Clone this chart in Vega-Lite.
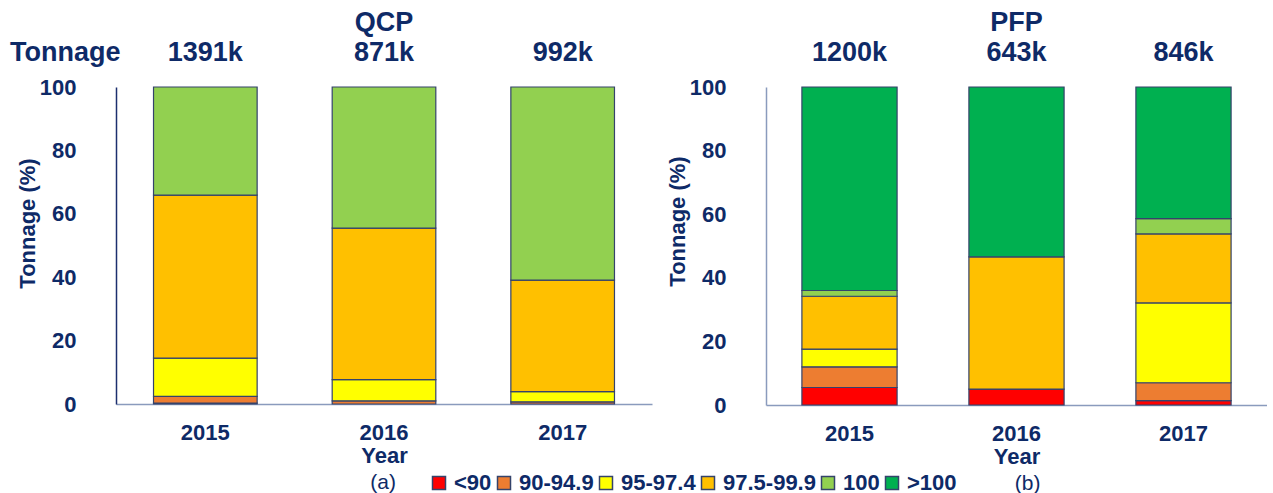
{
  "$schema": "https://vega.github.io/schema/vega-lite/v6.json",
  "padding": {"top": 8, "left": 10, "right": 0, "bottom": 0},
  "background": "white",
  "config": {
    "view": {"stroke": null},
    "font": "Liberation Sans",
    "axis": {
      "labelFont": "Liberation Sans",
      "labelFontWeight": "bold",
      "labelFontSize": 22,
      "labelColor": "#0e2a67",
      "titleFont": "Liberation Sans",
      "titleFontWeight": "bold",
      "titleFontSize": 22,
      "titleColor": "#0e2a67",
      "ticks": false,
      "grid": false
    },
    "title": {"font": "Liberation Sans", "fontWeight": "bold", "fontSize": 27, "color": "#0e2a67", "anchor": "middle"},
    "legend": {
      "labelFont": "Liberation Sans",
      "labelFontWeight": "bold",
      "labelFontSize": 22,
      "labelColor": "#0e2a67"
    }
  },
  "datasets": {
    "qcp": [
      {"year": "2015", "cat": "<90", "pct": 0.3},
      {"year": "2015", "cat": "90-94.9", "pct": 2.1},
      {"year": "2015", "cat": "95-97.4", "pct": 12.1},
      {"year": "2015", "cat": "97.5-99.9", "pct": 51.4},
      {"year": "2015", "cat": "100", "pct": 34.1},
      {"year": "2016", "cat": "90-94.9", "pct": 1.0},
      {"year": "2016", "cat": "95-97.4", "pct": 6.7},
      {"year": "2016", "cat": "97.5-99.9", "pct": 47.8},
      {"year": "2016", "cat": "100", "pct": 44.5},
      {"year": "2017", "cat": "90-94.9", "pct": 0.7},
      {"year": "2017", "cat": "95-97.4", "pct": 3.2},
      {"year": "2017", "cat": "97.5-99.9", "pct": 35.2},
      {"year": "2017", "cat": "100", "pct": 60.9}
    ],
    "pfp": [
      {"year": "2015", "cat": "<90", "pct": 5.5},
      {"year": "2015", "cat": "90-94.9", "pct": 6.5},
      {"year": "2015", "cat": "95-97.4", "pct": 5.6},
      {"year": "2015", "cat": "97.5-99.9", "pct": 16.6},
      {"year": "2015", "cat": "100", "pct": 1.8},
      {"year": "2015", "cat": ">100", "pct": 64.0},
      {"year": "2016", "cat": "<90", "pct": 5.0},
      {"year": "2016", "cat": "97.5-99.9", "pct": 41.6},
      {"year": "2016", "cat": ">100", "pct": 53.4},
      {"year": "2017", "cat": "<90", "pct": 1.4},
      {"year": "2017", "cat": "90-94.9", "pct": 5.6},
      {"year": "2017", "cat": "95-97.4", "pct": 25.1},
      {"year": "2017", "cat": "97.5-99.9", "pct": 21.7},
      {"year": "2017", "cat": "100", "pct": 4.8},
      {"year": "2017", "cat": ">100", "pct": 41.4}
    ],
    "qcpT": [
      {"year": "2015", "label": "1391k"},
      {"year": "2016", "label": "871k"},
      {"year": "2017", "label": "992k"}
    ],
    "pfpT": [
      {"year": "2015", "label": "1200k"},
      {"year": "2016", "label": "643k"},
      {"year": "2017", "label": "846k"}
    ],
    "tonLbl": [
      {"year": "2015", "label": "Tonnage"}
    ]
  },
  "resolve": {"scale": {"color": "shared"}, "legend": {"color": "shared"}},
  "spacing": 14,
  "hconcat": [
    {
      "title": {"text": "(a)", "orient": "bottom", "fontWeight": "normal", "fontSize": 21, "offset": 6, "dx": 52},
      "vconcat": [
        {
          "width": 536,
          "height": 317,
          "title": {"text": "QCP", "fontSize": 27, "offset": 2},
          "layer": [
            {
              "data": {"name": "qcp"},
              "transform": [{"calculate": "indexof(['<90','90-94.9','95-97.4','97.5-99.9','100','>100'], datum.cat)", "as": "rank"}],
              "mark": {"type": "bar", "stroke": "#34436b", "strokeWidth": 1.2},
              "encoding": {
                "x": {
                  "field": "year", "type": "ordinal",
                  "scale": {"paddingInner": 0.42, "paddingOuter": 0.21},
                  "axis": {"title": "Year", "labelAngle": 0, "labelPadding": 18, "titlePadding": 2, "domainColor": "#8a9bbd", "domainWidth": 1.5}
                },
                "y": {
                  "field": "pct", "type": "quantitative", "stack": "zero",
                  "scale": {"domain": [0, 100], "nice": false},
                  "axis": {"title": "Tonnage (%)", "values": [0, 20, 40, 60, 80, 100], "labelPadding": 40, "titlePadding": 0, "titleY": 136, "domainColor": "#1c2f6e", "domainWidth": 1.5}
                },
                "order": {"field": "rank", "type": "quantitative", "sort": "ascending"},
                "color": {
                  "field": "cat", "type": "nominal",
                  "sort": ["<90", "90-94.9", "95-97.4", "97.5-99.9", "100", ">100"],
                  "scale": {
                    "domain": ["<90", "90-94.9", "95-97.4", "97.5-99.9", "100", ">100"],
                    "range": ["#ff0000", "#ed7d31", "#ffff00", "#ffc000", "#92d050", "#00b050"]
                  },
                  "legend": {
                    "title": null, "orient": "none", "direction": "horizontal",
                    "legendX": 312, "legendY": 385,
                    "symbolType": "square", "symbolSize": 169,
                    "symbolStrokeColor": "#7f8aa6", "symbolStrokeWidth": 1.5,
                    "columnPadding": 1, "labelOffset": 4
                  }
                }
              }
            },
            {
              "data": {"name": "qcpT"},
              "mark": {"type": "text", "fontSize": 27, "fontWeight": "bold", "color": "#0e2a67", "baseline": "middle"},
              "encoding": {
                "x": {"field": "year", "type": "ordinal"},
                "y": {"datum": 110.7},
                "text": {"field": "label"}
              }
            },
            {
              "data": {"name": "tonLbl"},
              "mark": {"type": "text", "fontSize": 27, "fontWeight": "bold", "color": "#0e2a67", "baseline": "middle", "dx": -140},
              "encoding": {
                "x": {"field": "year", "type": "ordinal"},
                "y": {"datum": 110.7},
                "text": {"field": "label"}
              }
            }
          ]
        }
      ]
    },
    {
      "title": {"text": "(b)", "orient": "bottom", "fontWeight": "normal", "fontSize": 21, "offset": 6, "dx": 61},
      "vconcat": [
        {
          "width": 501,
          "height": 318,
          "title": {"text": "PFP", "fontSize": 27, "offset": 2},
          "layer": [
            {
              "data": {"name": "pfp"},
              "transform": [{"calculate": "indexof(['<90','90-94.9','95-97.4','97.5-99.9','100','>100'], datum.cat)", "as": "rank"}],
              "mark": {"type": "bar", "stroke": "#34436b", "strokeWidth": 1.2},
              "encoding": {
                "x": {
                  "field": "year", "type": "ordinal",
                  "scale": {"paddingInner": 0.43, "paddingOuter": 0.215},
                  "axis": {"title": "Year", "labelAngle": 0, "labelPadding": 18, "titlePadding": 2, "domainColor": "#8a9bbd", "domainWidth": 1.5}
                },
                "y": {
                  "field": "pct", "type": "quantitative", "stack": "zero",
                  "scale": {"domain": [0, 100], "nice": false},
                  "axis": {"title": "Tonnage (%)", "values": [0, 20, 40, 60, 80, 100], "labelPadding": 40, "titlePadding": 0, "titleY": 134, "domainColor": "#8a9bbd", "domainWidth": 1.5}
                },
                "order": {"field": "rank", "type": "quantitative", "sort": "ascending"},
                "color": {
                  "field": "cat", "type": "nominal",
                  "sort": ["<90", "90-94.9", "95-97.4", "97.5-99.9", "100", ">100"],
                  "scale": {
                    "domain": ["<90", "90-94.9", "95-97.4", "97.5-99.9", "100", ">100"],
                    "range": ["#ff0000", "#ed7d31", "#ffff00", "#ffc000", "#92d050", "#00b050"]
                  }
                }
              }
            },
            {
              "data": {"name": "pfpT"},
              "mark": {"type": "text", "fontSize": 27, "fontWeight": "bold", "color": "#0e2a67", "baseline": "middle"},
              "encoding": {
                "x": {"field": "year", "type": "ordinal"},
                "y": {"datum": 110.7},
                "text": {"field": "label"}
              }
            }
          ]
        }
      ]
    }
  ]
}
